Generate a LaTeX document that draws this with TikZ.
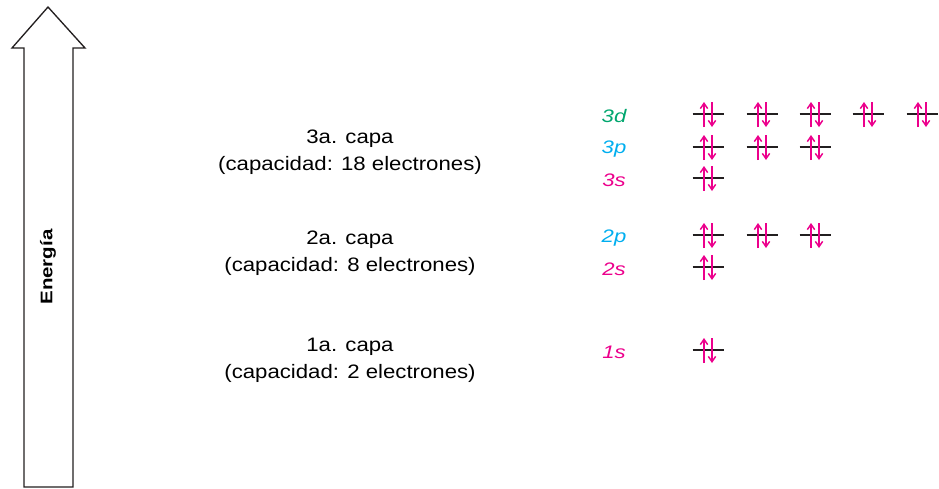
\documentclass[tikz,border=0pt]{standalone}
\usepackage{fontspec}
\setmainfont{Liberation Sans}
\newfontfamily\shellfont[FakeStretch=1.14]{Liberation Sans}
\newfontfamily\widefont[FakeStretch=1.22]{Liberation Sans}
\usetikzlibrary{arrows.meta}
\definecolor{mag}{RGB}{236,0,140}
\definecolor{cyn}{RGB}{0,174,239}
\definecolor{grn}{RGB}{0,166,110}
\definecolor{lvl}{RGB}{35,31,32}
\tikzset{
  shell/.style={font=\shellfont\fontsize{14.6pt}{19pt}\selectfont, align=center, inner sep=0pt},
  orb/.style={font=\widefont\fontsize{13.6pt}{17pt}\selectfont\itshape, inner sep=0pt},
  spin/.style={draw=mag, line width=1.1pt, -{Straight Barb[length=4pt,width=5.5pt]}},
  levelline/.style={draw=lvl, line width=2.2pt},
  bigarrow/.style={draw=lvl, line width=1pt, fill=white, line join=miter}
}
\begin{document}
\begin{tikzpicture}[x=0.75pt,y=-0.75pt]
\useasboundingbox (0,0) rectangle (939,489);
% energy arrow
\draw[bigarrow] (48,7) -- (85,48) -- (73,48) -- (73,487) -- (24,487) -- (24,48) -- (12,48) -- cycle;
\node[rotate=90, font=\widefont\bfseries\fontsize{12.6pt}{15pt}\selectfont] (en) at (48,267) {Energía};
% shell labels
\node[shell] (s3a) at (350,139) {3a. capa};
\node[shell] (s3b) at (350,165) {(capacidad: 18 electrones)};
\node[shell] (s2a) at (350,240) {2a. capa};
\node[shell] (s2b) at (350,266) {(capacidad: 8 electrones)};
\node[shell] (s1a) at (350,347) {1a. capa};
\node[shell] (s1b) at (350,373) {(capacidad: 2 electrones)};
% orbital labels
\node[orb, text=grn] (l3d) at (614,116) {3d};
\node[orb, text=cyn] (l3p) at (614,149) {3p};
\node[orb, text=mag] (l3s) at (614,180) {3s};
\node[orb, text=cyn] (l2p) at (614,238) {2p};
\node[orb, text=mag] (l2s) at (614,269) {2s};
\node[orb, text=mag] (l1s) at (614,352) {1s};
% orbitals
\newcommand{\orbital}[2]{%
  \draw[levelline] (#1-15.5,#2) -- (#1+15.5,#2);
  \draw[spin] (#1-4,#2+13) -- (#1-4,#2-12);
  \draw[spin] (#1+4,#2-12) -- (#1+4,#2+13);
}
\foreach \x in {708,762,815,868,922} {\orbital{\x}{114}}
\foreach \x in {708,762,815} {\orbital{\x}{147}}
\orbital{708}{178}
\foreach \x in {708,762,815} {\orbital{\x}{235}}
\orbital{708}{267}
\orbital{708}{350}
\end{tikzpicture}
\end{document}
